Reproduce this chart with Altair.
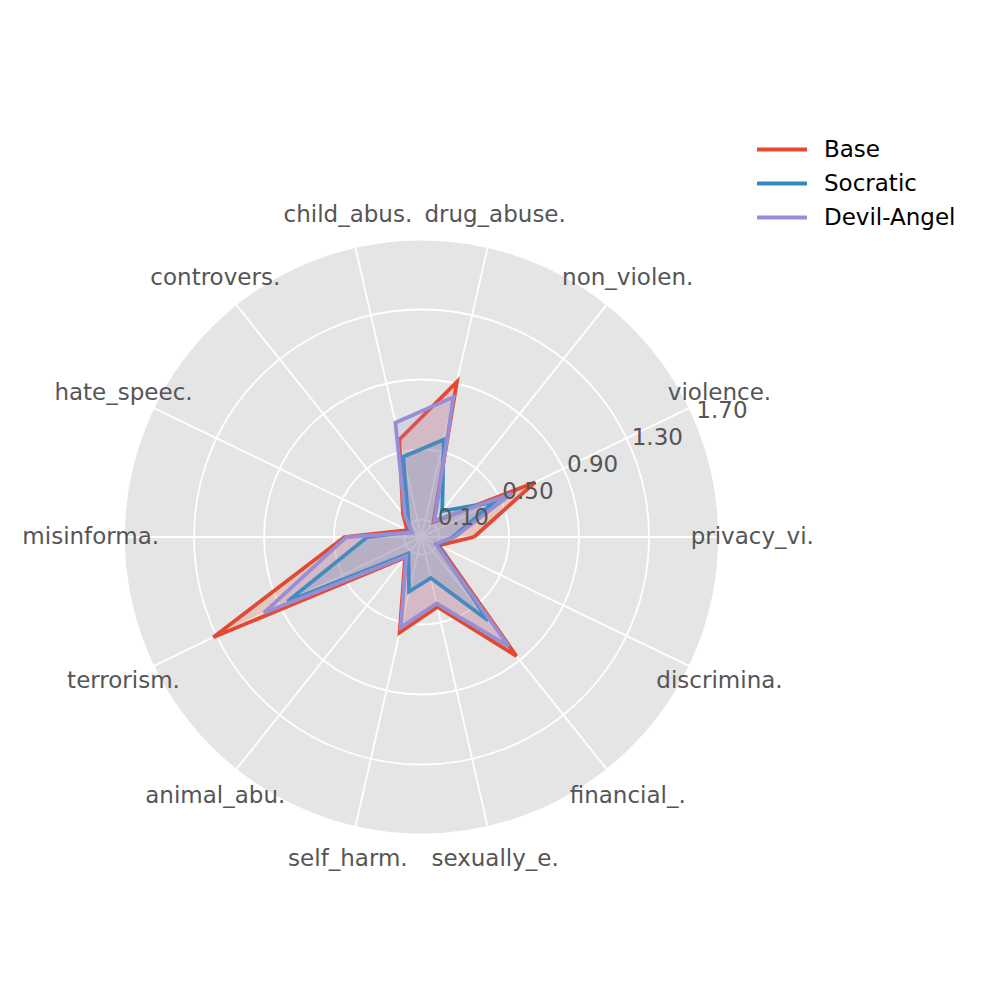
import math
import altair as alt
import pandas as pd

# ---- data ----
CATEGORIES = ["privacy_vi.", "violence.", "non_violen.", "drug_abuse.", "child_abus.",
              "controvers.", "hate_speec.", "misinforma.", "terrorism.", "animal_abu.",
              "self_harm.", "sexually_e.", "financial_.", "discrimina."]
BASE = [0.30, 0.72, 0.11, 0.91, 0.57, 0.17, 0.09, 0.44, 1.32, 0.15, 0.56, 0.41, 0.87, 0.11]
SOCRATIC = [0.18, 0.46, 0.19, 0.57, 0.47, 0.12, 0.07, 0.31, 0.85, 0.12, 0.32, 0.24, 0.61, 0.10]
DEVIL_ANGEL = [0.19, 0.57, 0.12, 0.82, 0.67, 0.15, 0.06, 0.43, 1.00, 0.14, 0.53, 0.39, 0.80, 0.09]
MODELS = ["Base", "Socratic", "Devil-Angel"]
COLORS = ["#E24A33", "#348ABD", "#988ED5"]
R_TICKS = [0.10, 0.50, 0.90, 1.30, 1.70]
R_MAX = 1.70

N = len(CATEGORIES)
PX = 175.0                       # pixels per data unit
SIZE = 2 * R_MAX * PX            # plot area side
LABEL_R = 1.89
RLABEL_ANGLE = 22.5
FS = 23

rows = []
for m, vals in zip(MODELS, [BASE, SOCRATIC, DEVIL_ANGEL]):
    closed = vals + [vals[0]]
    for i, v in enumerate(closed):
        rows.append({"model": m, "idx": i, "value": v})
series = pd.DataFrame(rows)
cats = pd.DataFrame({"cat": CATEGORIES, "idx": list(range(N))})
ticks = pd.DataFrame({"r": R_TICKS, "label": [f"{t:.2f}" for t in R_TICKS]})
disk_df = pd.DataFrame({"r": [R_MAX]})

xs = alt.Scale(domain=[-R_MAX, R_MAX], nice=False, zero=False)
ys = alt.Scale(domain=[-R_MAX, R_MAX], nice=False, zero=False)
rs = alt.Scale(type="linear", domain=[0, R_MAX], range=[0, R_MAX * PX], zero=True, nice=False)
ANG = f"datum.idx * 2 * PI / {N}"

disk = alt.Chart(disk_df).mark_arc(theta=0, theta2=2 * math.pi, color="#E5E5E5").encode(
    radius=alt.Radius("r:Q", scale=rs)
)

rings = alt.Chart(ticks).mark_arc(
    theta=0, theta2=2 * math.pi, fillOpacity=0, stroke="white", strokeWidth=1.8
).encode(radius=alt.Radius("r:Q", scale=rs), radius2="r:Q")

spokes = alt.Chart(cats).transform_calculate(
    a=ANG, x0="0", y0="0",
    x1=f"{R_MAX} * cos(datum.a)", y1=f"{R_MAX} * sin(datum.a)"
).mark_rule(color="white", strokeWidth=1.8).encode(
    x=alt.X("x0:Q", scale=xs, axis=None),
    y=alt.Y("y0:Q", scale=ys, axis=None),
    x2="x1:Q", y2="y1:Q",
)

cat_labels = alt.Chart(cats).transform_calculate(
    a=ANG, lx=f"{LABEL_R} * cos(datum.a)", ly=f"{LABEL_R} * sin(datum.a)"
).mark_text(fontSize=FS, color="#555555", align="center", baseline="middle").encode(
    x=alt.X("lx:Q", scale=xs, axis=None),
    y=alt.Y("ly:Q", scale=ys, axis=None),
    text="cat:N",
)

tick_labels = alt.Chart(ticks).transform_calculate(
    tx=f"datum.r * cos({RLABEL_ANGLE} * PI / 180)",
    ty=f"datum.r * sin({RLABEL_ANGLE} * PI / 180)",
).mark_text(fontSize=FS, color="#555555", align="left", baseline="bottom").encode(
    x=alt.X("tx:Q", scale=xs, axis=None),
    y=alt.Y("ty:Q", scale=ys, axis=None),
    text="label:N",
)

color_scale = alt.Scale(domain=MODELS, range=COLORS)
legend = alt.Legend(
    title=None, orient="none", legendX=631, legendY=-102,
    symbolType="stroke", symbolStrokeWidth=3.8, symbolSize=2500,
    labelFontSize=FS, labelColor="black", labelOffset=15, padding=0,
    rowPadding=10, clipHeight=24,
)

layers = [disk, rings, spokes]
for m, c in zip(MODELS, COLORS):
    base = alt.Chart(series).transform_filter(alt.datum.model == m).transform_calculate(
        a=ANG,
        px=f"datum.value * cos(datum.a)",
        py=f"datum.value * sin(datum.a)",
    )
    fill = base.mark_line(filled=True, fillOpacity=0.2, strokeWidth=0).encode(
        x=alt.X("px:Q", scale=xs, axis=None),
        y=alt.Y("py:Q", scale=ys, axis=None),
        order="idx:Q",
        color=alt.value(c),
    )
    line = base.mark_line(strokeWidth=3.8, strokeJoin="miter").encode(
        x=alt.X("px:Q", scale=xs, axis=None),
        y=alt.Y("py:Q", scale=ys, axis=None),
        order="idx:Q",
        color=alt.Color("model:N", scale=color_scale, legend=legend),
    )
    layers += [line, fill]

layers += [tick_labels, cat_labels]

chart = alt.layer(*layers).properties(
    width=SIZE, height=SIZE,
    autosize=alt.AutoSizeParams(type="none"),
    padding={"left": 116, "top": 231.5, "right": 260, "bottom": 140},
).configure(font="DejaVu Sans").configure_view(stroke=None, strokeWidth=0)

chart.save("out.html", embed_options={"renderer": "svg", "actions": False})
